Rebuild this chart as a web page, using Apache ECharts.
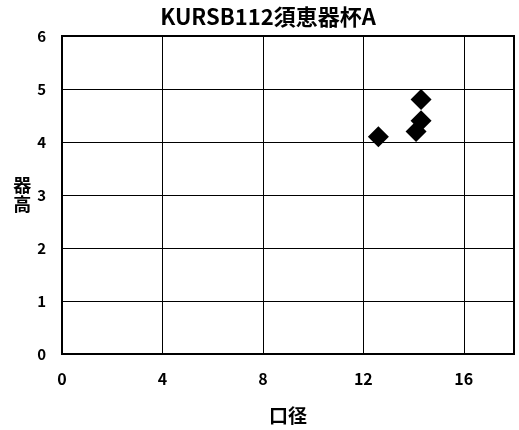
<!DOCTYPE html>
<html><head><meta charset="utf-8">
<script src="https://cdn.jsdelivr.net/npm/echarts@6/dist/echarts.min.js"></script>
<style>html,body{margin:0;padding:0;background:#fff}#c{width:519px;height:430px}</style>
</head><body><div id="c"></div>
<script>
const titleText = "KURSB112須恵器杯A";
const xName = "口径";
const yName = "器高";
const xValues = [12.6, 14.1, 14.3, 14.3];
const yValues = [4.1, 4.2, 4.4, 4.8];
const data = xValues.map((x, i) => [x, yValues[i]]);
const font = '"Noto Sans CJK JP", "DejaVu Sans", sans-serif';
const chart = echarts.init(document.getElementById('c'));
chart.setOption({
  animation: false,
  backgroundColor: '#fff',
  title: {text: titleText, top: 1, left: 263, textAlign: 'center',
    textStyle: {fontFamily: font, fontSize: 22, fontWeight: 'bold', color: '#000'}},
  grid: {left: 62, right: 5, top: 36, bottom: 74, show: true, borderColor: '#000', borderWidth: 2},
  xAxis: {type: 'value', min: 0, max: 18, interval: 4,
    name: xName, nameLocation: 'middle', nameGap: 52,
    nameTextStyle: {fontFamily: font, fontSize: 19, fontWeight: 'bold', color: '#000'},
    axisLine: {show: true, lineStyle: {color: '#000', width: 2}},
    axisTick: {show: false},
    axisLabel: {fontFamily: font, fontSize: 16, fontWeight: 'bold', color: '#000', margin: 17, showMaxLabel: false},
    splitLine: {show: true, lineStyle: {color: '#000', width: 1}}},
  yAxis: {type: 'value', min: 0, max: 6, interval: 1,
    name: yName.split('').join('\n'), nameLocation: 'middle', nameGap: 30, nameRotate: 0,
    nameTextStyle: {fontFamily: font, fontSize: 18, fontWeight: 'bold', color: '#000', lineHeight: 19},
    axisLine: {show: true, lineStyle: {color: '#000', width: 2}},
    axisTick: {show: true, inside: true, length: 4, lineStyle: {color: '#000'}},
    axisLabel: {fontFamily: font, fontSize: 15, fontWeight: 'bold', color: '#000', margin: 16},
    splitLine: {show: true, lineStyle: {color: '#000', width: 1}}},
  series: [{type: 'scatter', data: data, symbol: 'diamond', symbolSize: 21,
    itemStyle: {color: '#000', opacity: 1}}]
});
</script></body></html>
